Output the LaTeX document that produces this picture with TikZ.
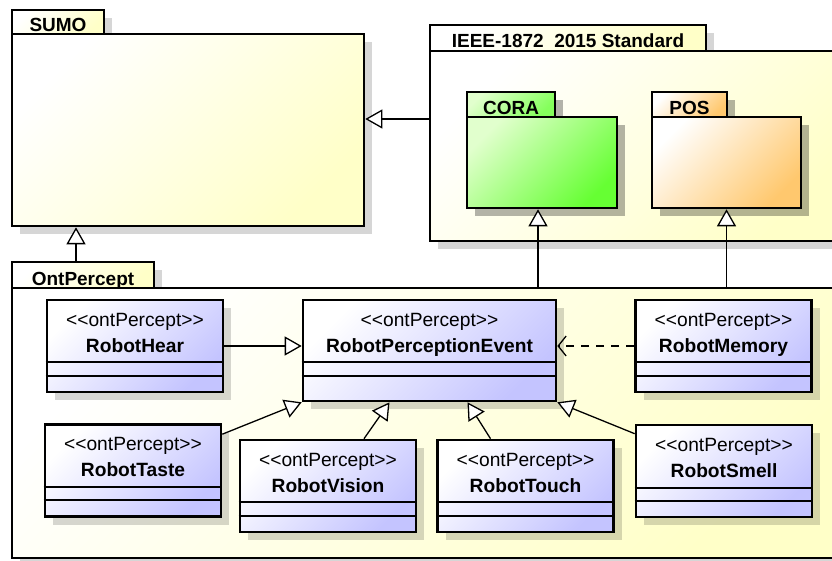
\documentclass[tikz,border=0pt]{standalone}
\usepackage{fontspec}
\setmainfont{Liberation Sans}
\usetikzlibrary{arrows.meta,shadows,positioning}
\definecolor{pkgyellow}{RGB}{255,255,200}
\definecolor{clsblue}{RGB}{196,196,255}
\definecolor{coralight}{RGB}{225,255,205}
\definecolor{coragreen}{RGB}{102,255,51}
\definecolor{posorange}{RGB}{255,200,110}

\begin{document}
\begin{tikzpicture}[x=1pt, y=-1pt,
    font=\fontsize{19.2}{26}\selectfont,
    shade box/.style 2 args={rectangle, draw, line width=2.6pt, top color=#1, bottom color=#2, shading angle=45,
        drop shadow={shadow xshift=8pt, shadow yshift=-8pt, fill=black, opacity=0.16}},
    pkg/.style={shade box={white}{pkgyellow}, inner sep=0pt},
    tab/.style={shade box={white}{pkgyellow}, inner sep=2pt, text height=20pt, text depth=0pt, font=\fontsize{19}{20}\selectfont\bfseries},
    cls/.style={shade box={white}{clsblue}, minimum width=176, minimum height=92, label={[head]north:{<{}<ontPercept>{}>\\\textbf{#1}}}},
    head/.style={anchor=north, align=center, inner sep=0pt, yshift=-14pt},
    gen/.style={-{Triangle[fill=white, length=17pt, width=19pt]}, line width=1.3pt},
    dep/.style={-{Straight Barb[length=8pt, width=20pt]}, line width=1.3pt, dash pattern=on 8pt off 7pt}
]
    \useasboundingbox (0,0) rectangle (832,561);
    \fill[white] (0,0) rectangle (832,561);
    \clip (0,0) rectangle (832,561);

    % packages
    \node[tab, minimum width=92, minimum height=24] (sumotab) at (58,22) {SUMO};
    \node[pkg, minimum width=352, minimum height=192] (sumo) at (188,130) {};
    \node[tab, minimum width=276, minimum height=26] (ieeetab) at (568,38) {IEEE-1872\ \ 2015 Standard};
    \node[pkg, minimum width=420, minimum height=190] (ieee) at (640,146) {};
    \node[tab, shade box={coralight}{coragreen!80}, minimum width=88, minimum height=25] (coratab) at (511,104.5) {CORA};
    \node[pkg, shade box={coralight}{coragreen}, minimum width=150, minimum height=91] (cora) at (542,162.5) {};
    \node[tab, shade box={white}{posorange}, minimum width=75, minimum height=25] (postab) at (689.5,104.5) {POS};
    \node[pkg, shade box={white}{posorange}, minimum width=149, minimum height=91] (pos) at (726.5,162.5) {};
    \node[tab, minimum width=142, minimum height=26] (ontptab) at (83,275) {OntPercept};
    \node[pkg, minimum width=838, minimum height=270] (ontp) at (431,423) {};

    \draw[gen] (ieee.west |- 0,119) -- (sumo.east |- 0,119);
    \draw[gen] (ontptab.north -| 76,0) -- (sumo.south -| 76,0);
    \draw[gen] (ontp.north -| 538,0) -- (cora.south -| 538,0);
    \draw[gen] (ontp.north -| pos.south) -- (pos.south);

    % classes
    \node[cls=RobotHear] (hear) at (135,346) {};
    \node[cls=RobotPerceptionEvent, minimum width=253, minimum height=101] (event) at (429.5,350.5) {};
    \node[cls=RobotMemory] (memory) at (723.5,346) {};
    \node[cls=RobotTaste] (taste) at (133,470.5) {};
    \node[cls=RobotVision] (vision) at (328,486) {};
    \node[cls=RobotTouch] (touch) at (525.5,486) {};
    \node[cls=RobotSmell] (smell) at (724,471) {};

    \foreach \n/\y in {hear/362, hear/376, event/362, event/376, memory/362, memory/376,
        taste/487, taste/500, vision/502, vision/516, touch/502, touch/516, smell/488, smell/501}
        \draw[line width=1.2pt] (\n.west |- 0,\y) -- (\n.east |- 0,\y);

    \draw[gen] (hear.east) -- (event.west |- hear.east);
    \draw[dep] (memory.west) -- (event.east |- memory.west);
    \draw[gen] ([yshift=-11pt]taste.north east) -- (event.south west);
    \draw[gen] ([xshift=36pt]vision.north) -- ([xshift=-40pt]event.south);
    \draw[gen] ([xshift=-35pt]touch.north) -- ([xshift=38pt]event.south);
    \draw[gen] ([yshift=-10pt]smell.north west) -- (event.south east);
\end{tikzpicture}
\end{document}
